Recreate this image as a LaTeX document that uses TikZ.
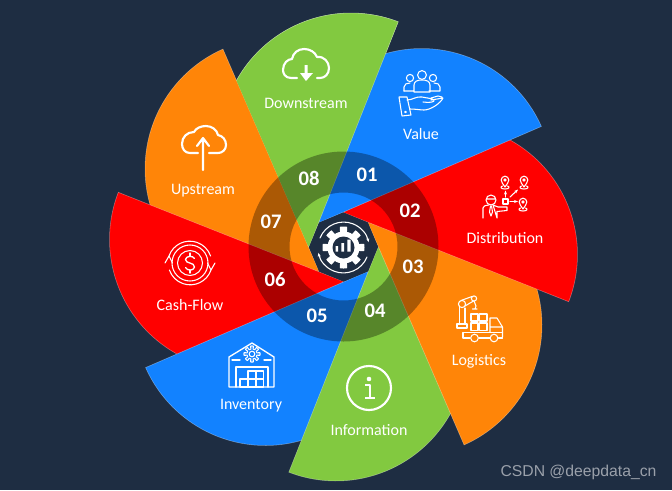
\documentclass[tikz,border=0pt]{standalone}
\usepackage{fontspec}
\setmainfont{Carlito}
\newfontfamily\markfont{Liberation Sans}
\usetikzlibrary{shapes.geometric, arrows.meta}
\definecolor{navy}{HTML}{1E2D42}
\definecolor{bladeblue}{HTML}{1282FF}
\definecolor{bladered}{HTML}{FF0000}
\definecolor{bladeorange}{HTML}{FF8508}
\definecolor{bladegreen}{HTML}{82C940}
\tikzset{
  blade/.style={draw=white, draw opacity=0.35, line width=0.4pt},
  ring/.style={fill=black, fill opacity=0.33, even odd rule},
  hubshape/.style={regular polygon, regular polygon sides=8, shape border rotate=22.5,
    fill=navy, minimum size=51.75pt, inner sep=0pt},
  title/.style={text=white, anchor=base, font=\fontsize{12}{12}\selectfont},
  number/.style={text=white, font=\fontsize{15.5}{15.5}\selectfont\bfseries},
  watermark/.style={text=white!55!navy, font=\fontsize{11.8}{12}\selectfont\markfont},
  icon/.style={draw=white, line width=1pt, line join=round, line cap=round},
  heavy/.style={icon, line width=1.6pt},
  tiny/.style={icon, line width=0.8pt},
}
\newcommand{\bladepath}{(-34.5,0) -- (54.7,-225.2) arc[start angle=-68.9, end angle=-180, radius=131] -- cycle}
\newcommand{\locpin}[2]{
  \draw[tiny] (#1,#2+7) .. controls (#1-2,#2+4) and (#1-3.8,#2+2) .. (#1-3.8,#2)
    arc[start angle=180, end angle=360, radius=3.8] .. controls (#1+3.8,#2+2) and (#1+2,#2+4) .. cycle;
  \draw[tiny] (#1,#2) circle (1.2);
  \draw[tiny] (#1-2.5,#2+6) .. controls (#1-5.5,#2+7) and (#1-4,#2+9) .. (#1,#2+9)
    .. controls (#1+4,#2+9) and (#1+5.5,#2+7) .. (#1+2.5,#2+6);
}
\begin{document}
\begin{tikzpicture}[x=0.75pt, y=-0.75pt]
  \useasboundingbox (0,0) rectangle (672,490);
  \fill[navy] (0,0) rectangle (672,490);

  % Blades, each one over the one before it
  \foreach \shade/\ang in {bladegreen/0, bladeorange/45, bladered/90, bladeblue/135,
                           bladegreen/180, bladeorange/225, bladered/270, bladeblue/315}
    \path[blade, fill=\shade, shift={(343.5,247)}, rotate=\ang] \bladepath;
  \begin{scope}
    \clip (222.9,49.1) -- (319.1,271.4) -- (520,271.4) -- (520,0) -- (222.9,0) -- cycle;
    \path[blade, fill=bladegreen, shift={(343.5,247)}] \bladepath;
  \end{scope}

  % Ring and hub
  \path[ring] (343.5,246.5) circle (95) circle (54);
  \node[hubshape] (hub) at (343.5,247) {};

  % Numbers
  \node[number] (n01) at (367,175) {01};
  \node[number] (n02) at (410,211) {02};
  \node[number] (n03) at (413,267) {03};
  \node[number] (n04) at (375,311) {04};
  \node[number] (n05) at (317,316) {05};
  \node[number] (n06) at (275,280) {06};
  \node[number] (n07) at (271,222) {07};
  \node[number] (n08) at (309,178) {08};

  % Titles
  \node[title] (downstream) at (306,108) {Downstream};
  \node[title] (value) at (421,139) {Value};
  \node[title] (distribution) at (505,243) {Distribution};
  \node[title] (logistics) at (479,365) {Logistics};
  \node[title] (information) at (369,435) {Information};
  \node[title] (inventory) at (251,409) {Inventory};
  \node[title] (cashflow) at (190,310) {Cash-Flow};
  \node[title] (upstream) at (203,194) {Upstream};

  % Hub gear
  \fill[white] plot[domain=0:360, samples=145] ({343.5+(18.5+2.5*sign(cos(8*\x)))*cos(\x)}, {247.5+(18.5+2.5*sign(cos(8*\x)))*sin(\x)}) -- cycle;
  \fill[navy] (343.5,247.5) circle (11);
  \fill[white] (335.7,246) rectangle (338,251.5) (341.3,243) rectangle (344,251.5) (347.3,239.5) rectangle (350.7,251.5);
  \draw[tiny, -{Stealth[length=3pt]}] (320,238) arc[start angle=-158, end angle=-12, radius=25.5];
  \draw[tiny, -{Stealth[length=3pt]}] (367,257) arc[start angle=22, end angle=168, radius=25.5];

  % Downstream
  \draw[heavy] (297,78) -- (291,78) .. controls (285,78) and (283,73) .. (283,70)
    .. controls (283,63) and (288,59) .. (292,59) .. controls (293,53) and (298,49) .. (304,49)
    .. controls (310,49) and (315,52) .. (317,57) .. controls (324,56) and (329,62) .. (329,68)
    .. controls (329,74) and (325,78) .. (320,78) -- (317,78);
  \fill[white] (304.5,65) rectangle (307.5,73) (300,73) -- (313,73) -- (306,81) -- cycle;

  % Upstream
  \draw[heavy] (198,153) -- (190,153) .. controls (185,153) and (182,149) .. (182,144)
    .. controls (182,137) and (187,132) .. (194,132) .. controls (196,128) and (201,126) .. (206,126)
    .. controls (212,126) and (217,130) .. (218,135) .. controls (223,136) and (226,140) .. (226,145)
    .. controls (226,150) and (222,153) .. (218,153) -- (209,153);
  \draw[heavy] (203,170) -- (203,138) (197,146) -- (203,138) -- (209,146);

  % Value
  \draw[tiny] (410,78) circle (3.6) (422,75) circle (4.4) (433,78) circle (3.6);
  \draw[tiny] (404,91) -- (404,87) .. controls (404,84) and (407,83) .. (410,83) (429,91) -- (440,91) -- (440,87) .. controls (440,84) and (437,83) .. (434,83);
  \draw[tiny] (404,91) -- (414,91) (414,92) -- (414,85) .. controls (414,81) and (418,80) .. (422,80) .. controls (426,80) and (430,81) .. (430,85) -- (430,92) -- cycle;
  \draw[tiny] (399,97) -- (407,97) -- (411,115) -- (402,116) -- cycle;
  \draw[tiny] (407,100) .. controls (413,100) and (416,96) .. (422,97) .. controls (426,98) and (431,98) .. (434,100) .. controls (435,102) and (430,103) .. (423,102) (431,100) -- (443,98) .. controls (440,104) and (430,110) .. (424,110) .. controls (420,110) and (416,109) .. (410,109) (431,98) -- (438,96) -- (442,97);
  \draw[tiny] (405.5,112) circle (0.8);

  % Distribution
  \locpin{505}{180} \locpin{524}{180} \locpin{523}{202}
  \draw[tiny] (503,199) rectangle (508,204);
  \draw[tiny, -{Stealth[length=3pt]}] (505.5,197) -- (505.5,190.5);
  \draw[tiny, -{Stealth[length=3pt]}] (510,197) -- (518,189.5);
  \draw[tiny, -{Stealth[length=3pt]}] (510,201.5) -- (518,201.5);
  \draw[tiny] (491,200) circle (5) (486.5,199) -- (495.5,199);
  \draw[tiny] (483,218) -- (483,208) .. controls (483,206) and (485,205.5) .. (489,205) (493,205) -- (498,207) -- (507,207) -- (507,210.5) -- (497,211.5) -- (497,218) -- cycle;
  \draw[tiny] (490.5,206) -- (489.5,212) -- (491,216) -- (492.5,212) -- (491.5,206);

  % Logistics
  \draw[tiny] (457,324) rectangle (467,328);
  \draw[tiny] (459.5,306) -- (459.5,324) (465,308) -- (465,324);
  \draw[tiny] (462,304) circle (3.6) (474,298.5) circle (2.6);
  \draw[tiny] (461,300.5) -- (472,296.5) (465,306) -- (473.5,301);
  \draw[tiny] (474,301) -- (476,306) -- (475,309) (477,309) -- (472.5,309);
  \draw[tiny] (471,314) rectangle (478,321) (479.5,314) rectangle (487,321) (471,323) rectangle (478,330.5) (479.5,323) rectangle (487,330.5);
  \draw[tiny] (490,318) -- (497,318) -- (502.5,327) -- (502.5,337) (490,318) -- (490,332) (490,327) -- (502.5,327);
  \draw[tiny] (463,332.5) -- (502.5,332.5) (463,332.5) -- (463,338) -- (470,338) (479,338) -- (490,338) (498.5,338) -- (502.5,338);
  \draw[tiny] (474.5,338) circle (3.8) (494,338) circle (3.8);

  % Information
  \draw[heavy] (369,388) circle (22);
  \fill[white] (369,379) circle (2.3);
  \draw[icon, line width=1.5pt, line cap=butt] (365,384.5) -- (370,384.5) -- (370,398) (365,398) -- (375,398);

  % Inventory
  \draw[icon] (229,387) -- (229,357) -- (252,343) -- (274,357) -- (274,387) -- cycle;
  \draw[icon] (236,387) -- (236,367) -- (268,367) -- (268,387);
  \draw[icon] (232,360) -- (240,360) (264,360) -- (271,360);
  \draw[tiny] plot[domain=0:360, samples=145] ({252+(6.5+1.5*sign(cos(8*\x)))*cos(\x)}, {354+(6.5+1.5*sign(cos(8*\x)))*sin(\x)}) -- cycle;
  \draw[tiny] (252,354) circle (2.8);
  \draw[tiny] (240,379) rectangle (248,387) (248,379) rectangle (256,387) (256,379) rectangle (263.5,387) (248,371) rectangle (256,379) (256,371) rectangle (263.5,379);

  % Cash-Flow
  \draw[tiny] (190,263) circle (18) (190,263) circle (12.5);
  \draw[tiny] (169,256) arc[start angle=-161, end angle=-19, radius=22];
  \draw[tiny] (211,270) arc[start angle=19, end angle=161, radius=22];
  \draw[tiny] (165,263) -- (169,256) -- (172.5,263) (207.5,263) -- (211,270) -- (215,263);
  \draw[icon] (194.5,258.5) .. controls (193,255.5) and (186,255.5) .. (185.5,259.5) .. controls (185.5,264) and (194.5,262) .. (194.5,267) .. controls (194,271) and (187,271) .. (185.5,267.5);
  \draw[icon] (190,253) -- (190,256) (190,270) -- (190,273);

  % Mark
  \node[watermark] (mark) at (578.5,472) {CSDN @deepdata\_cn};
\end{tikzpicture}
\end{document}
